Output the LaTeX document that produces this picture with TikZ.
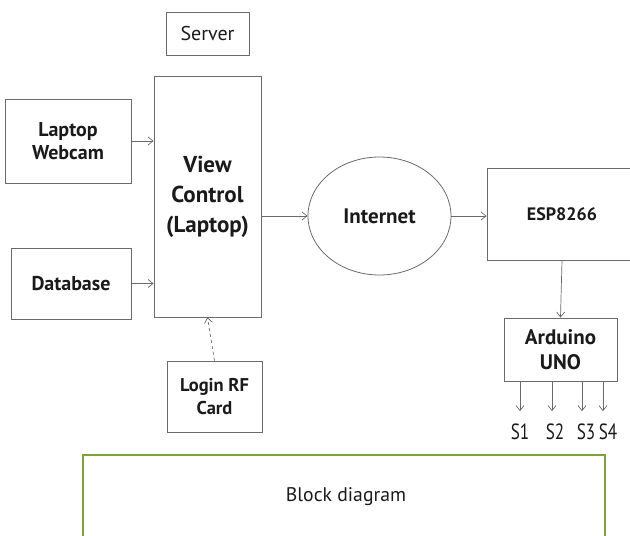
\documentclass[tikz,border=0pt]{standalone}
\usepackage{fontspec}
\setmainfont{PT Sans}
\newfontfamily\narrowfont[FakeStretch=0.78]{PT Sans}
\usetikzlibrary{arrows.meta,shapes.geometric}
\definecolor{linegray}{HTML}{6A6A6A}
\definecolor{txt}{HTML}{1A1A1A}
\definecolor{leaf}{HTML}{7AA33A}
\tikzset{
  blk/.style={draw=linegray, line width=0.8pt, rectangle, align=center, text=txt, font=\fontsize{20}{23}\selectfont\bfseries, inner sep=0pt},
  arr/.style={draw=linegray, line width=0.7pt, -{Straight Barb[length=5pt,width=8pt]}},
  lbl/.style={text=txt, inner sep=0pt, font=\narrowfont\fontsize{22}{26}\selectfont}
}
\begin{document}
\begin{tikzpicture}[x=1pt,y=-1pt]
\useasboundingbox (0,0) rectangle (630,536);
\clip (0,0) rectangle (630,536);
\node[blk, font=\fontsize{20}{23}\selectfont, minimum width=83pt, minimum height=43pt] (server) at (207.5,33.5) {Server};
\node[blk, minimum width=126pt, minimum height=84pt] (webcam) at (68,141) {Laptop\\Webcam};
\node[blk, font=\fontsize{23}{30}\selectfont\bfseries, minimum width=107pt, minimum height=241pt] (view) at (207.5,196.5) {View\\Control\\(Laptop)};
\node[blk, minimum width=120pt, minimum height=71pt] (database) at (71,283.5) {Database};
\node[blk, ellipse, font=\fontsize{21}{24}\selectfont\bfseries, minimum width=143pt, minimum height=118pt] (internet) at (379.5,216) {Internet};
\node[blk, font=\fontsize{18}{23}\selectfont\bfseries, minimum width=150pt, minimum height=92pt] (esp) at (562,214) {ESP8266};
\node[blk, font=\fontsize{21}{25}\selectfont\bfseries, minimum width=113pt, minimum height=63pt] (arduino) at (560.5,349.5) {Arduino\\UNO};
\node[blk, font=\fontsize{18.5}{23}\selectfont\bfseries, minimum width=95pt, minimum height=71pt] (login) at (214.5,396.5) {Login RF\\Card};
\node[lbl, anchor=base] (s1) at (520,439) {S1};
\node[lbl, anchor=base] (s2) at (555,439) {S2};
\node[lbl, anchor=base] (s3) at (586,439) {S3};
\node[lbl, anchor=base] (s4) at (608,439) {S4};
\node[draw=leaf, line width=2pt, minimum width=522pt, minimum height=110pt, inner sep=0pt] (frame) at (344,510) {};
\node[text=txt, inner sep=0pt, font=\fontsize{19.7}{23}\selectfont] (caption) at (346,497) {Block diagram};
\draw[arr] (webcam.east) -- (webcam.east -| view.west);
\draw[arr] (database.east) -- (database.east -| view.west);
\draw[arr] (view.east |- internet.west) -- (internet.west);
\draw[arr] (internet.east) -- (internet.east -| esp.west);
\draw[arr] (esp.south) -- (arduino.north);
\draw[arr, dashed] (login.north) -- (view.south);
\draw[arr, shorten >=12pt] (s1 |- arduino.south) -- (s1.north);
\draw[arr, shorten >=12pt] ([xshift=-3pt]s2 |- arduino.south) -- ([xshift=-3pt]s2.north);
\draw[arr, shorten >=12pt] ([xshift=-4pt]s3 |- arduino.south) -- ([xshift=-4pt]s3.north);
\draw[arr, shorten >=12pt] ([xshift=-5pt]s4 |- arduino.south) -- ([xshift=-5pt]s4.north);
\end{tikzpicture}
\end{document}
